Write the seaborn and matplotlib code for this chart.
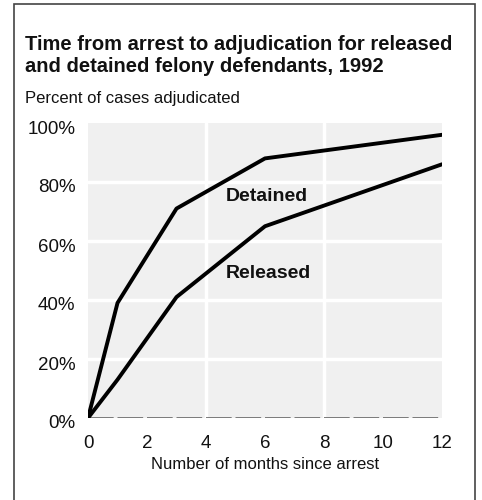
import pandas as pd
import matplotlib.pyplot as plt
import matplotlib.transforms as mtransforms
import seaborn as sns

months = [0, 1, 3, 6, 12]
detained = [0, 39, 71, 88, 96]
released = [0, 13, 41, 65, 86]

df = pd.DataFrame({
    'month': months * 2,
    'pct': detained + released,
    'group': ['Detained'] * len(months) + ['Released'] * len(months),
})

sns.set_style("white")
plt.rcParams['font.family'] = ['Liberation Sans', 'DejaVu Sans']
plt.rcParams['text.color'] = '#111111'
plt.rcParams['axes.labelcolor'] = '#111111'
plt.rcParams['xtick.color'] = '#111111'
plt.rcParams['ytick.color'] = '#111111'

fig = plt.figure(figsize=(4.82, 5.0), dpi=100)
ax = fig.add_axes([0.1826, 0.164, 0.7344, 0.59])
ax.set_facecolor('#f0f0f0')

# white grid
for x in [4, 8]:
    ax.axvline(x, color='white', lw=2.5, zorder=1)
for y in [20, 40, 60, 80]:
    ax.axhline(y, color='white', lw=2.5, zorder=1)
ax.axhline(0, color='#666666', lw=1.2, dashes=(1.2, 15.6, 2.6), zorder=1)
ax.get_lines()[-1].set_dashes((15.4, 2.3))

sns.lineplot(data=df, x='month', y='pct', hue='group',
             palette={'Detained': 'black', 'Released': 'black'},
             lw=2.8, legend=False, ax=ax, zorder=3)

ax.text(6.05, 75, 'Detained', fontsize=14, fontweight='bold', ha='center', va='center')
ax.text(6.1, 49, 'Released', fontsize=14, fontweight='bold', ha='center', va='center')

ax.set_xlim(0, 12)
ax.set_ylim(0, 100)
ax.set_xticks(range(0, 13, 2))
ax.set_yticks(range(0, 101, 20))
ax.set_yticklabels([f'{v}%' for v in range(0, 101, 20)])
ax.tick_params(axis='y', length=0, labelsize=13.5, pad=9)
ax.tick_params(axis='x', length=0, labelsize=13.5, pad=12.5)
offset = mtransforms.ScaledTranslation(0, -4 / 100, fig.dpi_scale_trans)
for lab in ax.get_yticklabels():
    lab.set_transform(lab.get_transform() + offset)
ax.set_xlabel('Number of months since arrest', fontsize=12, labelpad=3)
ax.set_ylabel('')
for s in ax.spines.values():
    s.set_visible(False)

fig.text(0.052, 0.889, 'Time from arrest to adjudication for released\nand detained felony defendants, 1992',
         fontsize=14.5, fontweight='bold', ha='left', va='center', linespacing=1.25)
fig.text(0.052, 0.804, 'Percent of cases adjudicated', fontsize=12, ha='left', va='center')

# outer frame
fig.patches.append(plt.Rectangle((0.029, -0.05), 0.957, 1.042, transform=fig.transFigure,
                                 fill=False, edgecolor='#444444', lw=1.2))

fig.savefig('out.png', dpi=100)
